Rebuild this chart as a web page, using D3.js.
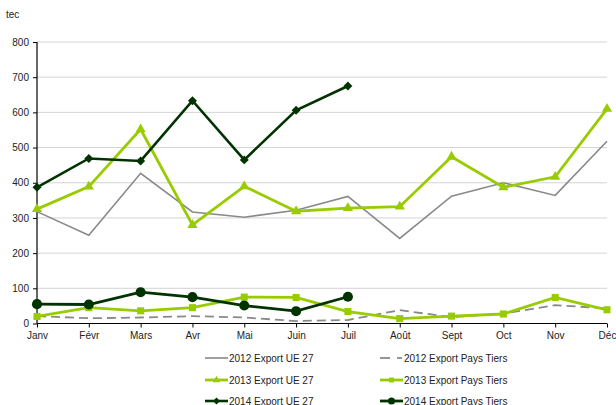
<!DOCTYPE html>
<html><head><meta charset="utf-8">
<script src="https://cdn.jsdelivr.net/npm/d3@7"></script>
<style>body{margin:0;background:#fff}svg{display:block;font-family:"Liberation Sans",Arial,sans-serif}</style>
</head><body><svg id="c" width="616" height="405"></svg>
<script>
const months = ["Janv","Févr","Mars","Avr","Mai","Juin","Juil","Août","Sept","Oct","Nov","Déc"];
const yTicks = [0,100,200,300,400,500,600,700,800];
const ue2012 = [318,251,427,317,302,322,361,242,362,400,364,518];
const pt2012 = [21,15,17,21,17,7,10,38,18,28,52,43];
const ue2013 = [325,389,552,280,390,319,328,332,474,387,417,610];
const pt2013 = [20,45,36,45,75,74,34,14,21,27,74,39];
const ue2014 = [387,469,462,633,465,606,675];
const pt2014 = [55,54,89,75,51,35,76];

const series = [
  {name:"2012 Export UE 27", values:ue2012, color:"#898989", width:1.6, dash:null, marker:null},
  {name:"2012 Export Pays Tiers", values:pt2012, color:"#898989", width:1.8, dash:"9,5", marker:null},
  {name:"2013 Export UE 27", values:ue2013, color:"#99cc00", width:2.8, dash:null, marker:"triangle"},
  {name:"2013 Export Pays Tiers", values:pt2013, color:"#99cc00", width:2.8, dash:null, marker:"square"},
  {name:"2014 Export UE 27", values:ue2014, color:"#003300", width:2.6, dash:null, marker:"diamond"},
  {name:"2014 Export Pays Tiers", values:pt2014, color:"#003300", width:2.8, dash:null, marker:"circle"}
];

const svg = d3.select("#c");
const x = d3.scalePoint().domain(months).range([37,607]);
const y = d3.scaleLinear().domain([0,800]).range([323.5,42]);

svg.append("g").selectAll("line").data(yTicks.filter(d=>d>0)).join("line")
  .attr("x1",37).attr("x2",607).attr("y1",d=>y(d)).attr("y2",d=>y(d))
  .attr("stroke","#d4d4d4").attr("stroke-width",1);

const yAxis = svg.append("g").attr("transform","translate(37,0)")
  .call(d3.axisLeft(y).tickValues(yTicks).tickSize(4).tickPadding(4));
const xAxis = svg.append("g").attr("transform","translate(0,323.5)")
  .call(d3.axisBottom(x).tickSize(4).tickPadding(4));
[yAxis,xAxis].forEach(a=>{
  a.select(".domain").attr("stroke","#000").attr("stroke-width",1.2);
  a.selectAll(".tick line").attr("stroke","#000");
  a.selectAll("text").attr("font-size",10).attr("fill","#222").attr("font-family","Liberation Sans, Arial, sans-serif");
});
xAxis.select(".domain").attr("d","M37,0H607");
yAxis.select(".domain").attr("d","M0,42V323.5");

svg.append("text").attr("x",6).attr("y",18).attr("font-size",10).attr("fill","#222").text("tec");

const symType = {triangle:d3.symbolTriangle, square:d3.symbolSquare, diamond:d3.symbolSquare, circle:d3.symbolCircle};
const symSize = {triangle:45, square:50, diamond:40, circle:80};
const symRot = {triangle:0, square:0, diamond:45, circle:0};

const line = d3.line().x((d,i)=>x(months[i])).y(d=>y(d));
series.forEach(s=>{
  const g = svg.append("g");
  g.append("path").attr("d",line(s.values)).attr("fill","none")
    .attr("stroke",s.color).attr("stroke-width",s.width)
    .attr("stroke-dasharray",s.dash).attr("stroke-linejoin","miter");
  if(s.marker){
    g.selectAll("path.m").data(s.values).join("path").attr("class","m")
      .attr("transform",(d,i)=>`translate(${x(months[i])},${y(d)}) rotate(${symRot[s.marker]})`)
      .attr("d",d3.symbol().type(symType[s.marker]).size(symSize[s.marker])()).attr("fill",s.color);
  }
});

const legPos = [[205,358],[380,358],[205,380],[380,380],[205,401],[380,401]];
series.forEach((s,i)=>{
  const [lx,ly] = legPos[i];
  const g = svg.append("g").attr("transform",`translate(${lx},${ly})`);
  if(s.dash){
    g.append("line").attr("x1",0).attr("x2",10).attr("stroke",s.color).attr("stroke-width",1.8);
    g.append("line").attr("x1",17).attr("x2",22).attr("stroke",s.color).attr("stroke-width",1.8);
  } else {
    g.append("line").attr("x1",0).attr("x2",23).attr("stroke",s.color).attr("stroke-width",s.width);
  }
  if(s.marker){
    g.append("path").attr("transform",`translate(11.5,0) rotate(${symRot[s.marker]})`)
      .attr("d",d3.symbol().type(symType[s.marker]).size(s.marker==="circle"?40:24)()).attr("fill",s.color);
  }
  g.append("text").attr("x",24).attr("y",3.5).attr("font-size",10).attr("fill","#222").text(s.name);
});
</script></body></html>
